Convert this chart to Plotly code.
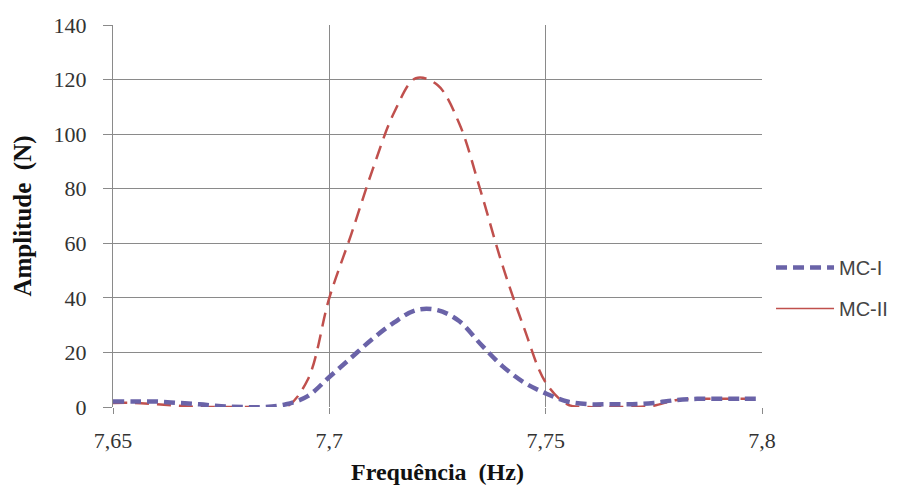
import plotly.graph_objects as go

freq = [7.65, 7.655, 7.66, 7.665, 7.67, 7.675, 7.68, 7.685, 7.69, 7.695, 7.70, 7.705, 7.71, 7.715,
        7.72, 7.725, 7.73, 7.735, 7.74, 7.745, 7.75, 7.755, 7.76, 7.765, 7.77, 7.775, 7.78, 7.785,
        7.79, 7.795, 7.80]
mc1 = [2.0, 2.0, 2.0, 1.5, 1.0, 0.3, 0.0, 0.0, 1.0, 4.0, 11.0, 18.0, 25.0, 31.0,
       35.5, 35.5, 31.5, 23.0, 15.0, 9.0, 5.0, 2.0, 1.0, 1.0, 1.0, 1.5, 2.5, 3.0,
       3.0, 3.0, 3.0]
mc2 = [1.5, 1.5, 1.0, 0.5, 0.0, 0.0, 0.0, 0.0, 0.0, 10.0, 40.0, 63.0, 87.0, 108.0,
       120.5, 118.0, 104.0, 79.0, 52.0, 29.0, 9.0, 1.0, 0.0, 0.0, 0.0, 0.5, 2.5, 3.0,
       3.0, 3.0, 3.0]

x_ticks = [7.65, 7.7, 7.75, 7.8]
x_ticklabels = ["7,65", "7,7", "7,75", "7,8"]
y_ticks = [0, 20, 40, 60, 80, 100, 120, 140]

blue = "#6A63A8"
red = "#C0504D"

fig = go.Figure()
fig.add_trace(go.Scatter(x=freq, y=mc2, mode="lines", name="MC-II", showlegend=False,
                         line=dict(color=red, width=2.5, dash="14px,8px", shape="spline")))
fig.add_trace(go.Scatter(x=freq, y=mc1, mode="lines", name="MC-I", legendgroup="a",
                         line=dict(color=blue, width=4.5, dash="11px,6px", shape="spline")))
fig.add_trace(go.Scatter(x=[None], y=[None], mode="lines", name="MC-II", legendgroup="b",
                         line=dict(color=red, width=1.5)))

title_font = dict(family="Liberation Serif", size=24, color="#111111")

fig.update_layout(
    width=912, height=495,
    margin=dict(l=113, r=150, t=25, b=88),
    paper_bgcolor="white", plot_bgcolor="white",
    font=dict(family="Liberation Serif", size=22, color="#333333"),
    legend=dict(x=1.0139, y=0.3115, xanchor="left", yanchor="middle",
                font=dict(family="Liberation Sans", size=20, color="#444444"),
                tracegroupgap=12, itemwidth=58, bgcolor="rgba(0,0,0,0)"),
    xaxis=dict(range=[7.65, 7.8], tickvals=x_ticks, ticktext=x_ticklabels,
               showgrid=True, gridcolor="#8A8A8A", gridwidth=1,
               showline=False, zeroline=False, automargin=False,
               ticks="outside", ticklen=6, tickcolor="#8A8A8A", ticklabelstandoff=8,
               title=dict(text="<b>Frequência  (Hz)</b>", font=title_font, standoff=10)),
    yaxis=dict(range=[0, 140], tickvals=y_ticks,
               showgrid=True, gridcolor="#8A8A8A", gridwidth=1,
               showline=True, linecolor="#8A8A8A", linewidth=1, zeroline=False, automargin=False,
               ticks="outside", ticklen=9, tickcolor="#8A8A8A", ticklabelstandoff=12,
               title=dict(text="<b>Amplitude  (N)</b>", font=dict(family="Liberation Serif", size=25, color="#111111"), standoff=14)),
)

fig.write_html("out.html")
